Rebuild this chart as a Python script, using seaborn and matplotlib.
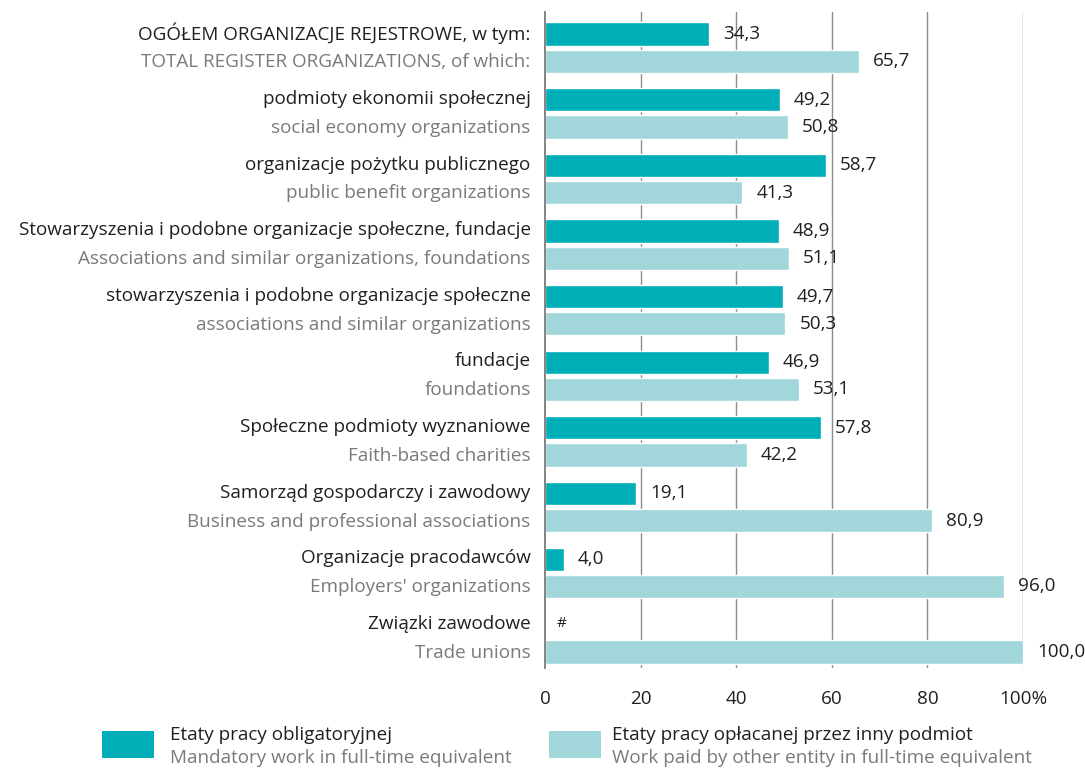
import math
import matplotlib
matplotlib.use("Agg")
import matplotlib.pyplot as plt
import matplotlib.transforms as mtransforms
from matplotlib.patches import Rectangle
import numpy as np
import pandas as pd
import seaborn as sns

# Data
CATEGORIES_PL = [
    "OGÓŁEM ORGANIZACJE REJESTROWE, w tym:",
    "podmioty ekonomii społecznej",
    "organizacje pożytku publicznego",
    "Stowarzyszenia i podobne organizacje społeczne, fundacje",
    "stowarzyszenia i podobne organizacje społeczne",
    "fundacje",
    "Społeczne podmioty wyznaniowe",
    "Samorząd gospodarczy i zawodowy",
    "Organizacje pracodawców",
    "Związki zawodowe",
]
CATEGORIES_EN = [
    "TOTAL REGISTER ORGANIZATIONS, of which:",
    "social economy organizations",
    "public benefit organizations",
    "Associations and similar organizations, foundations",
    "associations and similar organizations",
    "foundations",
    "Faith-based charities",
    "Business and professional associations",
    "Employers' organizations",
    "Trade unions",
]
MANDATORY = [34.3, 49.2, 58.7, 48.9, 49.7, 46.9, 57.8, 19.1, 4.0, np.nan]
PAID_OTHER = [65.7, 50.8, 41.3, 51.1, 50.3, 53.1, 42.2, 80.9, 96.0, 100.0]

SERIES_PL = ["Etaty pracy obligatoryjnej", "Etaty pracy opłacanej przez inny podmiot"]
SERIES_EN = ["Mandatory work in full-time equivalent", "Work paid by other entity in full-time equivalent"]
COLORS = ["#00AEB8", "#A1D7DA"]
X_TICKS = [0, 20, 40, 60, 80, 100]
X_TICK_LABELS = ["0", "20", "40", "60", "80", "100%"]

DARK = "#231F20"
GREY = "#7A7A7A"
GRID = "#8C8C8C"
FS = 13.6


def pl_number(v):
    return f"{v:.1f}".replace(".", ",")


def main():
    df = pd.DataFrame({
        "category": CATEGORIES_PL * 2,
        "value": MANDATORY + PAID_OTHER,
        "series": [SERIES_PL[0]] * len(MANDATORY) + [SERIES_PL[1]] * len(PAID_OTHER),
    })

    sns.set_style("white")
    plt.rcParams["font.family"] = ["Open Sans", "DejaVu Sans"]

    fig = plt.figure(figsize=(10.85, 7.73), dpi=100)
    ax = fig.add_axes([0.5023, 0.136, 0.4406, 0.849])

    sns.barplot(data=df, y="category", x="value", hue="series", order=CATEGORIES_PL,
                hue_order=SERIES_PL, palette=COLORS, orient="h", width=0.83, gap=0.15,
                saturation=1, legend=False, ax=ax, errorbar=None, zorder=2)

    ax.set_xlim(0, 100)
    ax.set_ylim(9.45, -0.55)
    ax.set_xticks(X_TICKS)
    ax.set_xticklabels(X_TICK_LABELS, fontsize=FS, color=DARK)
    ax.set_yticks([])
    ax.set_xlabel("")
    ax.set_ylabel("")
    ax.tick_params(axis="x", length=10, width=1, color=GRID, pad=6, direction="out")

    for s in ["top", "right", "bottom"]:
        ax.spines[s].set_visible(False)
    ax.spines["left"].set_color("#6E6E6E")
    ax.spines["left"].set_linewidth(1.2)
    ax.spines["left"].set_bounds(9.45, -0.55)

    for xv in X_TICKS[1:]:
        ax.axvline(xv, color=GRID, linewidth=1, zorder=1)

    # value labels from the drawn bars
    for container in ax.containers:
        for bar in container:
            w = bar.get_width()
            if not math.isfinite(w):
                continue
            ax.text(w + 2.9, bar.get_y() + bar.get_height() / 2, pl_number(w),
                    va="center", ha="left", fontsize=FS, color=DARK, clip_on=False)
    # missing value marker
    ax.text(2.4, len(CATEGORIES_PL) - 1 - 0.23, "#", va="center", ha="left",
            fontsize=11, color=DARK)

    # two-language category labels
    trans = mtransforms.blended_transform_factory(ax.transAxes, ax.transData)
    for i, (pl, en) in enumerate(zip(CATEGORIES_PL, CATEGORIES_EN)):
        ax.text(-0.03, i - 0.22, pl, transform=trans, ha="right", va="center",
                fontsize=FS, color=DARK, clip_on=False)
        ax.text(-0.03, i + 0.22, en, transform=trans, ha="right", va="center",
                fontsize=FS, color=GREY, clip_on=False)

    # legend at the bottom
    legend_pos = [(0.094, 0.157), (0.506, 0.564)]
    for (bx, tx), color, pl, en in zip(legend_pos, COLORS, SERIES_PL, SERIES_EN):
        fig.patches.append(Rectangle((bx, 0.019), 0.048, 0.035, transform=fig.transFigure,
                                     facecolor=color, edgecolor="none"))
        fig.text(tx, 0.049, pl, ha="left", va="center", fontsize=FS, color=DARK)
        fig.text(tx, 0.020, en, ha="left", va="center", fontsize=FS, color=GREY)

    fig.savefig("out.png", dpi=100)
    plt.close(fig)


if __name__ == "__main__":
    main()
